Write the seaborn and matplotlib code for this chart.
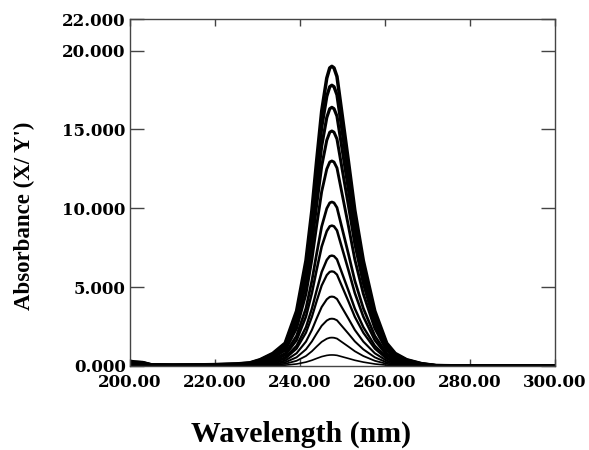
import numpy as np
import pandas as pd
import matplotlib
matplotlib.use("Agg")
import matplotlib.pyplot as plt
import seaborn as sns

# Profile of the largest spectrum (nm, absorbance)
profile_wavelength = [200.0, 201.0, 203.0, 205.0, 210.0, 215.0, 220.0, 225.0, 228.2,
                      230.6, 233.6, 236.5, 239.2, 241.4, 242.8, 243.9, 245.1, 246.3,
                      247.0, 247.5, 248.0, 248.7, 249.8, 251.4, 252.9, 254.9, 257.6,
                      260.4, 262.4, 265.1, 268.6, 272.0, 280.0, 300.0]
profile_absorbance = [0.30, 0.26, 0.22, 0.08, 0.06, 0.07, 0.09, 0.13, 0.20,
                      0.40, 0.80, 1.45, 3.50, 6.70, 9.90, 13.00, 16.20, 18.30,
                      18.95, 19.05, 18.95, 18.40, 16.20, 13.00, 9.90, 6.70, 3.50,
                      1.45, 0.80, 0.40, 0.15, 0.03, 0.00, 0.00]

# Peak absorbance of each recorded spectrum
peak_heights = [19.0, 17.8, 16.4, 14.9, 13.0, 10.4, 8.9, 7.0, 6.0, 4.4, 3.0, 1.8, 0.7]

x_ticks = [200, 220, 240, 260, 280, 300]
y_ticks = [0, 5, 10, 15, 20, 22]

prof = np.array(profile_absorbance)
rows = []
for i, h in enumerate(peak_heights):
    scaled = prof / prof.max() * h
    for wl, a in zip(profile_wavelength, scaled):
        rows.append({"wavelength": wl, "absorbance": a, "curve": i})
df = pd.DataFrame(rows)

sns.set_theme(style="white")
plt.rcParams["text.color"] = "black"
fig = plt.figure(figsize=(5.89, 4.5), dpi=100)
ax = fig.add_axes([130/589, 1-366/450, (555-130)/589, (366-19)/450])

n = len(peak_heights)
for i in range(n):
    lw = 2.5 - 1.3 * i / (n - 1)
    sns.lineplot(data=df[df["curve"] == i], x="wavelength", y="absorbance",
                 color="black", lw=lw, ax=ax, estimator=None, legend=False)

ax.set_xlim(200, 300)
ax.set_ylim(0, 22)
ax.set_xticks(x_ticks)
ax.set_yticks(y_ticks)
ax.set_xticklabels([f"{v:.2f}" for v in x_ticks])
ax.set_yticklabels([f"{v:.3f}" for v in y_ticks])
ax.set_xlabel("")
ax.set_ylabel("")

for lab in ax.get_xticklabels() + ax.get_yticklabels():
    lab.set_fontfamily("DejaVu Serif")
    lab.set_fontweight("bold")
    lab.set_fontsize(12)
    lab.set_color("black")

ax.tick_params(axis="y", which="both", direction="in", length=10, width=1,
               color="#444444", left=True, right=True, pad=3)
ax.tick_params(axis="x", which="both", direction="in", length=5, width=1,
               color="#444444", bottom=True, top=True, pad=6)
for s in ax.spines.values():
    s.set_color("#444444")
    s.set_linewidth(1.0)
    s.set_visible(True)

fig.text(24/589, 1-216/450, "Absorbance (X/ Y')", rotation=90, ha="center",
         va="center", family="Liberation Serif", weight="bold", fontsize=16.5,
         color="black")
fig.text(301/589, 1-442/450, "Wavelength (nm)", ha="center", va="baseline",
         family="Liberation Serif", weight="bold", fontsize=21.5, color="black")

fig.savefig("out.png", dpi=100)
